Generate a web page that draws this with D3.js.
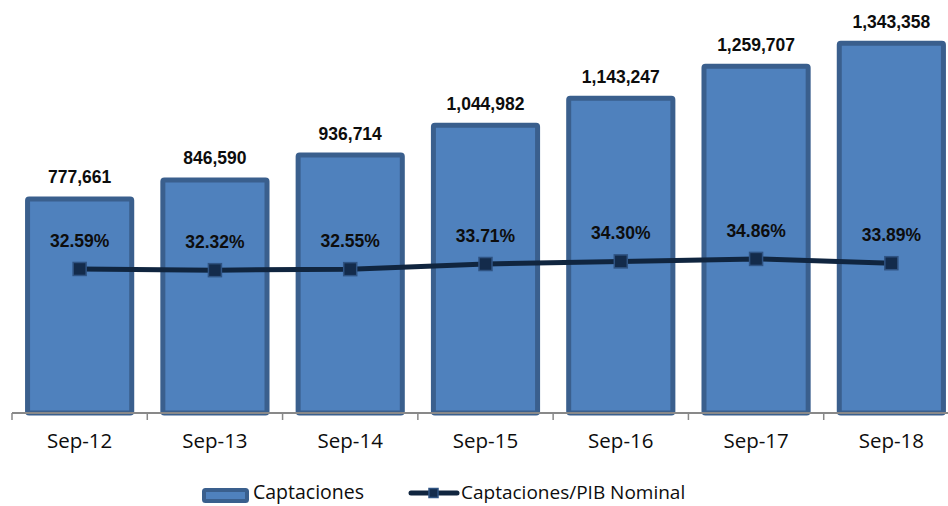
<!DOCTYPE html>
<html>
<head>
<meta charset="utf-8">
<script src="https://cdn.jsdelivr.net/npm/d3@7"></script>
<style>
  html, body { margin: 0; padding: 0; background: #fff; }
  svg { display: block; }
</style>
</head>
<body>
<svg id="chart" width="948" height="506"></svg>
<script>
const categories = ["Sep-12", "Sep-13", "Sep-14", "Sep-15", "Sep-16", "Sep-17", "Sep-18"];
const captaciones = [777661, 846590, 936714, 1044982, 1143247, 1259707, 1343358];
const ratioPIB = [0.3259, 0.3232, 0.3255, 0.3371, 0.3430, 0.3486, 0.3389];
const seriesNames = ["Captaciones", "Captaciones/PIB Nominal"];

const svg = d3.select("#chart");
const baseY = 413;

const x = d3.scaleBand().domain(categories).range([12, 959]).padding(0);
const y = d3.scaleLinear().domain([0, 1500000]).range([baseY, 0]);
const y2 = d3.scaleLinear().domain([0, 1]).range([baseY, baseY - 442]);

const barW = x.bandwidth() * 0.77;
const cx = d => x(d) + x.bandwidth() / 2;

const labelFont = "'Liberation Sans', Arial, sans-serif";
const textFont = "'Open Sans', sans-serif";

// Bars
svg.append("g").selectAll("rect")
  .data(categories)
  .join("rect")
  .attr("x", (d) => cx(d) - barW / 2)
  .attr("y", (d, i) => y(captaciones[i]))
  .attr("width", barW)
  .attr("height", (d, i) => baseY - y(captaciones[i]))
  .attr("fill", "#4F81BD")
  .attr("stroke", "#3A5F8D")
  .attr("stroke-width", 5)
  .attr("rx", 1.5);

// Bar labels
const fmt = d3.format(",");
svg.append("g").selectAll("text")
  .data(categories)
  .join("text")
  .attr("x", d => cx(d))
  .attr("y", (d, i) => y(captaciones[i]) - 15.5)
  .attr("text-anchor", "middle")
  .attr("font-family", labelFont)
  .attr("font-weight", "bold")
  .attr("font-size", 17.5)
  .attr("fill", "#0d0d0d")
  .text((d, i) => fmt(captaciones[i]));

// Axis
const axisG = svg.append("g");
axisG.append("line")
  .attr("x1", x.range()[0]).attr("x2", 948)
  .attr("y1", baseY).attr("y2", baseY)
  .attr("stroke", "#898989").attr("stroke-width", 2);
axisG.selectAll("line.tick")
  .data(categories)
  .join("line")
  .attr("class", "tick")
  .attr("x1", d => x(d)).attr("x2", d => x(d))
  .attr("y1", baseY).attr("y2", baseY + 7)
  .attr("stroke", "#898989").attr("stroke-width", 1.5);
axisG.selectAll("text")
  .data(categories)
  .join("text")
  .attr("x", d => cx(d))
  .attr("y", 448)
  .attr("text-anchor", "middle")
  .attr("font-family", textFont)
  .attr("font-size", 20.5)
  .attr("fill", "#0d0d0d")
  .text(d => d);

// Line
const line = d3.line()
  .x(d => cx(d))
  .y((d, i) => y2(ratioPIB[i]));
svg.append("path")
  .datum(categories)
  .attr("d", line)
  .attr("fill", "none")
  .attr("stroke", "#10253F")
  .attr("stroke-width", 5);

const mk = 13;
svg.append("g").selectAll("rect")
  .data(categories)
  .join("rect")
  .attr("x", d => cx(d) - mk / 2)
  .attr("y", (d, i) => y2(ratioPIB[i]) - mk / 2)
  .attr("width", mk).attr("height", mk)
  .attr("fill", "#132B4B")
  .attr("stroke", "#2F5382")
  .attr("stroke-width", 1.5);

const pfmt = d3.format(".2%");
svg.append("g").selectAll("text")
  .data(categories)
  .join("text")
  .attr("x", d => cx(d))
  .attr("y", (d, i) => y2(ratioPIB[i]) - 22)
  .attr("text-anchor", "middle")
  .attr("font-family", labelFont)
  .attr("font-weight", "bold")
  .attr("font-size", 17.5)
  .attr("fill", "#0d0d0d")
  .text((d, i) => pfmt(ratioPIB[i]));

// Legend
const lg = svg.append("g");
lg.append("rect")
  .attr("x", 204).attr("y", 490).attr("width", 43).attr("height", 11)
  .attr("fill", "#4F81BD").attr("stroke", "#3A5F8D").attr("stroke-width", 4).attr("rx", 1.5);
lg.append("text")
  .attr("x", 253).attr("y", 499)
  .attr("font-family", textFont).attr("font-size", 19.5).attr("fill", "#0d0d0d")
  .text(seriesNames[0]);
lg.append("line")
  .attr("x1", 411).attr("x2", 457).attr("y1", 493).attr("y2", 493)
  .attr("stroke", "#10253F").attr("stroke-width", 5).attr("stroke-linecap", "round");
lg.append("rect")
  .attr("x", 429).attr("y", 488.5).attr("width", 9).attr("height", 9)
  .attr("fill", "#132B4B").attr("stroke", "#2F5382").attr("stroke-width", 1.5);
lg.append("text")
  .attr("x", 461).attr("y", 499)
  .attr("font-family", textFont).attr("font-size", 19).attr("fill", "#0d0d0d")
  .text(seriesNames[1]);
</script>
</body>
</html>
